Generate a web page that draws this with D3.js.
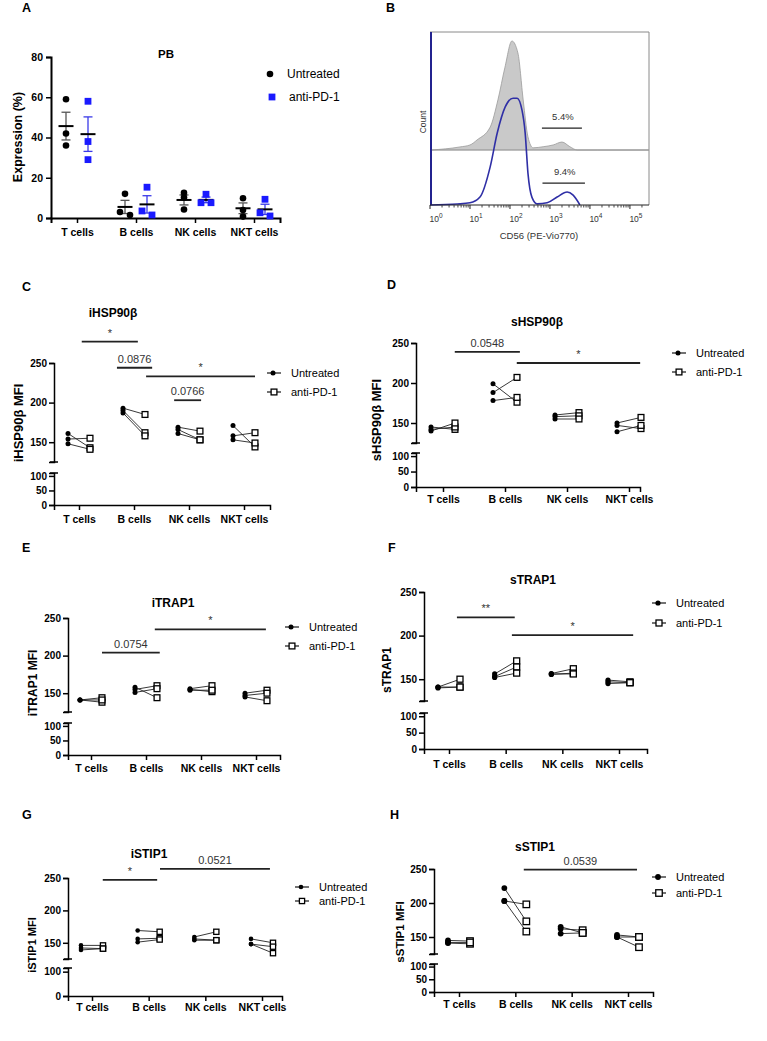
<!DOCTYPE html>
<html>
<head>
<meta charset="utf-8">
<script src="https://cdn.jsdelivr.net/npm/d3@7"></script>
<style>
  body { margin: 0; background: #fff; }
  svg text { font-family: "Liberation Sans", Arial, sans-serif; }
</style>
</head>
<body>
<svg id="fig" width="767" height="1041"></svg>
<script>
// ---- data ----
const cellTypes = ["T cells", "B cells", "NK cells", "NKT cells"];
const groupNames = ["Untreated", "anti-PD-1"];

// A: expression (%) in PB, three donors per cell type
const pbUntreated = [[59, 42, 36], [12, 3, 1.5], [12.5, 10.2, 4.2], [9.8, 4, 0.7]];
const pbAntiPD1 = [[58, 38, 29], [15.3, 3.5, 1.5], [11.8, 7.6, 7.6], [9.3, 2.6, 1]];
const pbTicks = [0, 20, 40, 60, 80];

// B: CD56 histograms, [intensity, normalised count]
const cd56Untreated = [[1.1, 0], [5.6, 2.8], [10, 4.6], [15, 9.2], [32, 21], [50, 46], [75, 76],
  [112, 100], [158, 89], [214, 46], [282, 12], [380, 2], [676, 3], [1200, 4.6], [2000, 7.3],
  [3160, 3], [4790, 0], [15800, 0], [300000, 0]];
const cd56AntiPD1 = [[1, 0], [4.8, 0.9], [10, 2], [17.8, 7.3], [32, 35], [48, 66], [76, 90],
  [120, 98], [151, 98], [200, 87], [240, 66], [282, 29], [355, 7], [479, 1], [851, 2],
  [1510, 7.3], [2690, 11.9], [3800, 9], [5620, 0]];
const decades = [0, 1, 2, 3, 4, 5];
const gates = [{ label: "5.4%", from: 630, to: 6300, count: 20 }, { label: "9.4%", from: 650, to: 7500, count: 20 }];

// C-H: MFI, paired donors (untreated[i] -> anti-PD-1[i])
const iHSP90Untreated = [[161, 154, 148], [193, 190, 187], [169, 166, 161], [171, 158, 153]];
const iHSP90AntiPD1 = [[143, 155, 141], [185, 162, 158], [164, 153, 153], [144, 162, 149]];
const sHSP90Untreated = [[145, 142, 140], [199, 188, 178], [160, 158, 155], [150, 147, 139]];
const sHSP90AntiPD1 = [[142, 145, 150], [176, 207, 182], [163, 159, 155], [157, 143, 147]];
const iTRAP1Untreated = [[141, 141, 141], [158, 155, 151], [156, 155, 154], [150, 147, 145]];
const iTRAP1AntiPD1 = [[144, 138, 141], [144, 160, 156], [160, 152, 154], [154, 150, 140]];
const sTRAP1Untreated = [[141, 140, 141], [156, 153, 152], [156.5, 155.5, 156], [149, 147, 145]];
const sTRAP1AntiPD1 = [[150, 141, 141], [171, 164, 157], [162, 157, 156], [147, 146, 146]];
const iSTIP1Untreated = [[146, 142, 139], [169, 156, 151], [159, 156, 154], [156, 148, 148]];
const iSTIP1AntiPD1 = [[146, 141, 141], [167, 157, 155], [167, 154, 154], [150, 144, 134]];
const sSTIP1Untreated = [[145, 141, 142], [222, 203, 203], [165, 162, 155], [153, 150, 150]];
const sSTIP1AntiPD1 = [[144, 140, 142], [173, 198, 158], [156, 160, 156], [150, 150, 135]];

// significance bars: from/to in category index, y in MFI units
const iHSP90Sig = [{ from: 0.05, to: 1.07, y: 277, label: "*" }, { from: 0.69, to: 1.33, y: 244, label: "0.0876" },
  { from: 1.22, to: 3.2, y: 233, label: "*" }, { from: 1.73, to: 2.22, y: 203, label: "0.0766" }];
const sHSP90Sig = [{ from: 0.19, to: 1.24, y: 239, label: "0.0548" }, { from: 1.19, to: 3.18, y: 225, label: "*" }];
const iTRAP1Sig = [{ from: 0.2, to: 1.25, y: 204, label: "0.0754" }, { from: 1.16, to: 3.18, y: 235, label: "*" }];
const sTRAP1Sig = [{ from: 0.14, to: 1.16, y: 221, label: "**" }, { from: 1.11, to: 3.25, y: 200.6, label: "*" }];
const iSTIP1Sig = [{ from: 0.19, to: 1.15, y: 247, label: "*" }, { from: 1.2, to: 3.14, y: 264, label: "0.0521" }];
const sSTIP1Sig = [{ from: 1.15, to: 3.16, y: 249, label: "0.0539" }];

const upperTicks = [150, 200, 250];

const svg = d3.select("#fig");
const blue = "#1a1aff";

function styleAxis(g, size, bold) {
  g.attr("font-family", null).attr("font-size", null);
  g.selectAll(".domain").attr("stroke", "#000").attr("stroke-width", 1.5);
  g.selectAll(".tick line").attr("stroke", "#000").attr("stroke-width", 1.5);
  g.selectAll(".tick text")
    .attr("fill", "#000")
    .style("font-size", size + "px")
    .style("font-weight", bold ? "bold" : "normal");
}

function letter(l, x, y) {
  svg.append("text").attr("x", x).attr("y", y).text(l)
    .style("font-size", "12.5px").style("font-weight", "bold");
}

function categoryScales(axisX, xEnd, c0, c3) {
  const xc = d3.scaleLinear().domain([0, 3]).range([c0, c3]);
  const xs = xc.copy().domain([xc.invert(axisX), xc.invert(xEnd)]).range([axisX, xEnd]);
  return { xc, xs };
}

function yLabel(text, x, y, size) {
  svg.append("text")
    .attr("transform", `translate(${x},${y}) rotate(-90)`)
    .attr("text-anchor", "middle").attr("dy", "0.35em")
    .style("font-size", size + "px").style("font-weight", "bold")
    .text(text);
}

// spread overlapping dots sideways (scatter-dot style)
function dodge(values, y, minGap, step) {
  const idx = values.map((v, i) => i).sort((a, b) => values[b] - values[a]);
  const offs = new Array(values.length).fill(0);
  let cluster = [idx[0]];
  const flush = () => {
    cluster.forEach((k, j) => (offs[k] = (j - (cluster.length - 1) / 2) * step));
  };
  for (let j = 1; j < idx.length; j++) {
    if (Math.abs(y(values[idx[j]]) - y(values[cluster[cluster.length - 1]])) < minGap) cluster.push(idx[j]);
    else { flush(); cluster = [idx[j]]; }
  }
  flush();
  return offs;
}

// ---- Panel A ----
function drawPB() {
  const { xc, xs } = categoryScales(51, 280, 77, 254);
  const y = d3.scaleLinear().domain([0, 80]).range([218, 57]);
  const g = svg.append("g");

  g.append("g").attr("transform", "translate(0,218)")
    .call(d3.axisBottom(xs).tickValues([0, 1, 2, 3]).tickFormat((i) => cellTypes[i]).tickSizeOuter(0).tickSize(5).tickPadding(6))
    .call((a) => styleAxis(a, 10.5, true));
  g.append("g").attr("transform", "translate(51,0)")
    .call(d3.axisLeft(y).tickValues(pbTicks).tickSizeOuter(0).tickSize(5).tickPadding(3))
    .call((a) => styleAxis(a, 10.5, true));
  g.selectAll(".domain").attr("stroke-width", 2);

  const sets = [
    { data: pbUntreated, dx: -11, color: "#000", whisker: "#555", shape: "circle" },
    { data: pbAntiPD1, dx: 11, color: blue, whisker: "#3a3ae8", shape: "square" },
  ];
  sets.forEach((s) => {
    s.data.forEach((vals, ci) => {
      const cx = xc(ci) + s.dx;
      const m = d3.mean(vals);
      const sem = d3.deviation(vals) / Math.sqrt(vals.length);
      g.append("line").attr("x1", cx).attr("x2", cx).attr("y1", y(m - sem)).attr("y2", y(m + sem))
        .attr("stroke", s.whisker).attr("stroke-width", 1.3);
      [m - sem, m + sem].forEach((v) =>
        g.append("line").attr("x1", cx - 4.5).attr("x2", cx + 4.5).attr("y1", y(v)).attr("y2", y(v))
          .attr("stroke", s.whisker).attr("stroke-width", 1.3));
      g.append("line").attr("x1", cx - 7.5).attr("x2", cx + 7.5).attr("y1", y(m)).attr("y2", y(m))
        .attr("stroke", "#000").attr("stroke-width", 2);
      const offs = dodge(vals, y, 4.5, 10);
      vals.forEach((v, k) => {
        if (s.shape === "circle") {
          g.append("circle").attr("cx", cx + offs[k]).attr("cy", y(v)).attr("r", 3.3).attr("fill", s.color);
        } else {
          g.append("rect").attr("x", cx + offs[k] - 3.4).attr("y", y(v) - 3.4)
            .attr("width", 6.8).attr("height", 6.8).attr("fill", s.color);
        }
      });
    });
  });

  g.append("text").attr("x", 166).attr("y", 58).attr("text-anchor", "middle")
    .style("font-size", "11.5px").style("font-weight", "bold").text("PB");
  yLabel("Expression (%)", 18, 137, 12.5);

  // legend
  g.append("circle").attr("cx", 270).attr("cy", 74).attr("r", 3.3).attr("fill", "#000");
  g.append("rect").attr("x", 268.6).attr("y", 93.6).attr("width", 6.8).attr("height", 6.8).attr("fill", blue);
  g.append("text").attr("x", 287).attr("y", 78).style("font-size", "12px").text(groupNames[0]);
  g.append("text").attr("x", 289).attr("y", 101).style("font-size", "12px").text(groupNames[1]);
}

// ---- Panel B ----
function drawHistogram() {
  const g = svg.append("g");
  const x = d3.scaleLog().domain([1, 300000]).range([430, 649]);
  const yGray = d3.scaleLinear().domain([0, 100]).range([150, 41]);
  const yBlue = d3.scaleLinear().domain([0, 100]).range([205, 96]);

  // box
  g.append("line").attr("x1", 430).attr("x2", 649).attr("y1", 32).attr("y2", 32).attr("stroke", "#8a8a8a");
  g.append("line").attr("x1", 649).attr("x2", 649).attr("y1", 32).attr("y2", 205).attr("stroke", "#8a8a8a");

  const area = d3.area().curve(d3.curveMonotoneX)
    .x((d) => x(d[0])).y0(150).y1((d) => yGray(d[1]));
  g.append("path").datum(cd56Untreated).attr("d", area)
    .attr("fill", "#c9c9c9").attr("stroke", "#9a9a9a").attr("stroke-width", 0.8);
  g.append("line").attr("x1", 430).attr("x2", 649).attr("y1", 150).attr("y2", 150)
    .attr("stroke", "#9a9a9a").attr("stroke-width", 0.8);

  const line = d3.line().curve(d3.curveMonotoneX).x((d) => x(d[0])).y((d) => yBlue(d[1]));
  g.append("path").datum(cd56AntiPD1).attr("d", line)
    .attr("fill", "none").attr("stroke", "#2f2fa6").attr("stroke-width", 1.6);
  g.append("line").attr("x1", 431).attr("x2", 431).attr("y1", 32).attr("y2", 205)
    .attr("stroke", "#23238f").attr("stroke-width", 2);

  // log axis
  const major = decades.map((d) => Math.pow(10, d));
  const minor = [];
  decades.forEach((d) => d3.range(2, 10).forEach((k) => {
    const v = k * Math.pow(10, d);
    if (v < 300000) minor.push(v);
  }));
  const ax = g.append("g").attr("transform", "translate(0,205)");
  ax.append("line").attr("x1", 430).attr("x2", 649).attr("stroke", "#222").attr("stroke-width", 1.2);
  ax.selectAll(".mj").data(major).join("line").attr("class", "mj")
    .attr("x1", (d) => x(d)).attr("x2", (d) => x(d)).attr("y1", 0).attr("y2", 4).attr("stroke", "#222");
  ax.selectAll(".mn").data(minor).join("line").attr("class", "mn")
    .attr("x1", (d) => x(d)).attr("x2", (d) => x(d)).attr("y1", 0).attr("y2", 2.5).attr("stroke", "#444");
  const lab = ax.selectAll(".lab").data(decades).join("text").attr("class", "lab")
    .attr("x", (d) => x(Math.pow(10, d)) + 6).attr("y", 17).attr("text-anchor", "middle")
    .attr("fill", "#333").style("font-size", "8.5px");
  lab.append("tspan").text("10");
  lab.append("tspan").attr("dy", -4.5).style("font-size", "6.5px").text((d) => d);

  g.append("text").attr("x", 539).attr("y", 239).attr("text-anchor", "middle")
    .attr("fill", "#333").style("font-size", "9.5px").text("CD56 (PE-Vio770)");
  g.append("text").attr("transform", "translate(423,122) rotate(-90)").attr("text-anchor", "middle")
    .attr("dy", "0.35em").attr("fill", "#333").style("font-size", "8.5px").text("Count");

  // gates
  [yGray, yBlue].forEach((yy, i) => {
    const gt = gates[i];
    const gy = yy(gt.count);
    g.append("line").attr("x1", x(gt.from)).attr("x2", x(gt.to)).attr("y1", gy).attr("y2", gy)
      .attr("stroke", "#222").attr("stroke-width", 1.3);
    g.append("text").attr("x", (x(gt.from) + x(gt.to)) / 2 + 1).attr("y", gy - 8)
      .attr("text-anchor", "middle").attr("fill", "#333").style("font-size", "9.5px").text(gt.label);
  });
}

// ---- Panels C-H ----
function drawPaired(cfg, untreated, anti, sig) {
  const g = svg.append("g");
  const { xc, xs } = categoryScales(cfg.axisX, cfg.xEnd, cfg.c0, cfg.c3);
  const yTop = d3.scaleLinear().domain([125, 250]).range([cfg.yBreak, cfg.y250]);
  const yBot = d3.scaleLinear().domain([0, cfg.lowMax]).range([cfg.yZero, cfg.yLowTop]);

  g.append("g").attr("transform", `translate(0,${cfg.yZero})`)
    .call(d3.axisBottom(xs).tickValues([0, 1, 2, 3]).tickFormat((i) => cellTypes[i]).tickSizeOuter(0).tickSize(5).tickPadding(cfg.xPad))
    .call((a) => styleAxis(a, 10.5, true));
  g.append("g").attr("transform", `translate(${cfg.axisX},0)`)
    .call(d3.axisLeft(yTop).tickValues(upperTicks).tickSizeOuter(0).tickSize(5).tickPadding(2))
    .call((a) => styleAxis(a, 10, true));
  g.append("g").attr("transform", `translate(${cfg.axisX},0)`)
    .call(d3.axisLeft(yBot).tickValues(cfg.lowTicks).tickSizeOuter(0).tickSize(5).tickPadding(2))
    .call((a) => styleAxis(a, 10, true));
  // axis break caps
  [yTop(125), yBot(cfg.lowMax)].forEach((yy) =>
    g.append("line").attr("x1", cfg.axisX - 4).attr("x2", cfg.axisX + 4).attr("y1", yy).attr("y2", yy)
      .attr("stroke", "#000").attr("stroke-width", 1.5));

  // paired lines + markers
  untreated.forEach((vals, ci) => {
    const x0 = xc(ci) - cfg.off, x1 = xc(ci) + cfg.off;
    vals.forEach((v, k) => {
      g.append("line").attr("x1", x0).attr("x2", x1).attr("y1", yTop(v)).attr("y2", yTop(anti[ci][k]))
        .attr("stroke", "#222").attr("stroke-width", 0.9);
    });
    vals.forEach((v) => g.append("circle").attr("cx", x0).attr("cy", yTop(v)).attr("r", cfg.r).attr("fill", "#000"));
    anti[ci].forEach((v) => g.append("rect").attr("x", x1 - cfg.sq / 2).attr("y", yTop(v) - cfg.sq / 2)
      .attr("width", cfg.sq).attr("height", cfg.sq).attr("fill", "#fff").attr("stroke", "#000").attr("stroke-width", 1.3));
  });

  // significance bars
  sig.forEach((s) => {
    const yy = yTop(s.y);
    g.append("line").attr("x1", xc(s.from)).attr("x2", xc(s.to)).attr("y1", yy).attr("y2", yy)
      .attr("stroke", "#222").attr("stroke-width", 1.8);
    g.append("text").attr("x", (xc(s.from) + xc(s.to)) / 2).attr("y", yy - 5).attr("text-anchor", "middle")
      .attr("fill", "#333").style("font-size", "11px").text(s.label);
  });

  g.append("text").attr("x", cfg.titleX).attr("y", cfg.titleY).attr("text-anchor", "middle")
    .style("font-size", "12px").style("font-weight", "bold").text(cfg.title);
  yLabel(cfg.yLabel, cfg.yLabelX, cfg.yLabelY, cfg.yLabelSize);

  // legend
  cfg.legY.forEach((ly, i) => {
    g.append("line").attr("x1", cfg.legX).attr("x2", cfg.legX + 14).attr("y1", ly).attr("y2", ly)
      .attr("stroke", "#000").attr("stroke-width", 1.1);
    if (i === 0) g.append("circle").attr("cx", cfg.legX + 6).attr("cy", ly).attr("r", cfg.r).attr("fill", "#000");
    else g.append("rect").attr("x", cfg.legX + 7 - cfg.sq / 2).attr("y", ly - cfg.sq / 2).attr("width", cfg.sq)
      .attr("height", cfg.sq).attr("fill", "#fff").attr("stroke", "#000").attr("stroke-width", 1.3);
    g.append("text").attr("x", cfg.legX + 24).attr("y", ly).attr("dy", "0.35em")
      .style("font-size", "11px").text(groupNames[i]);
  });
}

drawPB();
drawHistogram();

drawPaired({ axisX: 54, xEnd: 270, c0: 79, c3: 244, y250: 363, yBreak: 462, yZero: 505, yLowTop: 473, lowMax: 110,
  lowTicks: [0, 50, 100], off: 11, r: 2.5, sq: 5.8, xPad: 6, title: "iHSP90β", titleX: 113, titleY: 317,
  yLabel: "iHSP90β MFI", yLabelX: 18, yLabelY: 423, yLabelSize: 13, legX: 267, legY: [373, 392] },
  iHSP90Untreated, iHSP90AntiPD1, iHSP90Sig);

drawPaired({ axisX: 416, xEnd: 640, c0: 443, c3: 629, y250: 343, yBreak: 443, yZero: 487, yLowTop: 453, lowMax: 110,
  lowTicks: [0, 50, 100], off: 12, r: 2.5, sq: 5.8, xPad: 4, title: "sHSP90β", titleX: 537, titleY: 326,
  yLabel: "sHSP90β MFI", yLabelX: 376, yLabelY: 420, yLabelSize: 13, legX: 672, legY: [353, 372] },
  sHSP90Untreated, sHSP90AntiPD1, sHSP90Sig);

drawPaired({ axisX: 68, xEnd: 280, c0: 91, c3: 256, y250: 618, yBreak: 712, yZero: 755, yLowTop: 723, lowMax: 110,
  lowTicks: [0, 50, 100], off: 11, r: 2.5, sq: 5.8, xPad: 5, title: "iTRAP1", titleX: 173, titleY: 607,
  yLabel: "iTRAP1 MFI", yLabelX: 33, yLabelY: 683, yLabelSize: 12, legX: 285, legY: [627, 646] },
  iTRAP1Untreated, iTRAP1AntiPD1, iTRAP1Sig);

drawPaired({ axisX: 424, xEnd: 647, c0: 449, c3: 619, y250: 592, yBreak: 701, yZero: 749, yLowTop: 713, lowMax: 110,
  lowTicks: [0, 50, 100], off: 11, r: 2.6, sq: 6, xPad: 7, title: "sTRAP1", titleX: 533, titleY: 584,
  yLabel: "sTRAP1", yLabelX: 387, yLabelY: 670, yLabelSize: 12, legX: 652, legY: [603, 623] },
  sTRAP1Untreated, sTRAP1AntiPD1, sTRAP1Sig);

drawPaired({ axisX: 68, xEnd: 282, c0: 92, c3: 262, y250: 878, yBreak: 959, yZero: 996, yLowTop: 968, lowMax: 115,
  lowTicks: [0, 100], off: 11, r: 2.3, sq: 5.2, xPad: 3, title: "iSTIP1", titleX: 149, titleY: 858,
  yLabel: "iSTIP1 MFI", yLabelX: 32, yLabelY: 945, yLabelSize: 11, legX: 295, legY: [887, 901] },
  iSTIP1Untreated, iSTIP1AntiPD1, iSTIP1Sig);

drawPaired({ axisX: 434, xEnd: 653, c0: 459, c3: 628, y250: 869, yBreak: 954, yZero: 992, yLowTop: 964, lowMax: 110,
  lowTicks: [0, 50, 100], off: 11, r: 2.9, sq: 6.5, xPad: 4, title: "sSTIP1", titleX: 535, titleY: 851,
  yLabel: "sSTIP1 MFI", yLabelX: 400, yLabelY: 932, yLabelSize: 11.5, legX: 652, legY: [877, 893] },
  sSTIP1Untreated, sSTIP1AntiPD1, sSTIP1Sig);

letter("A", 22, 12);
letter("B", 386, 12);
letter("C", 22, 291);
letter("D", 387, 289);
letter("E", 22, 552);
letter("F", 388, 552);
letter("G", 22, 819);
letter("H", 390, 819);
</script>
</body>
</html>
